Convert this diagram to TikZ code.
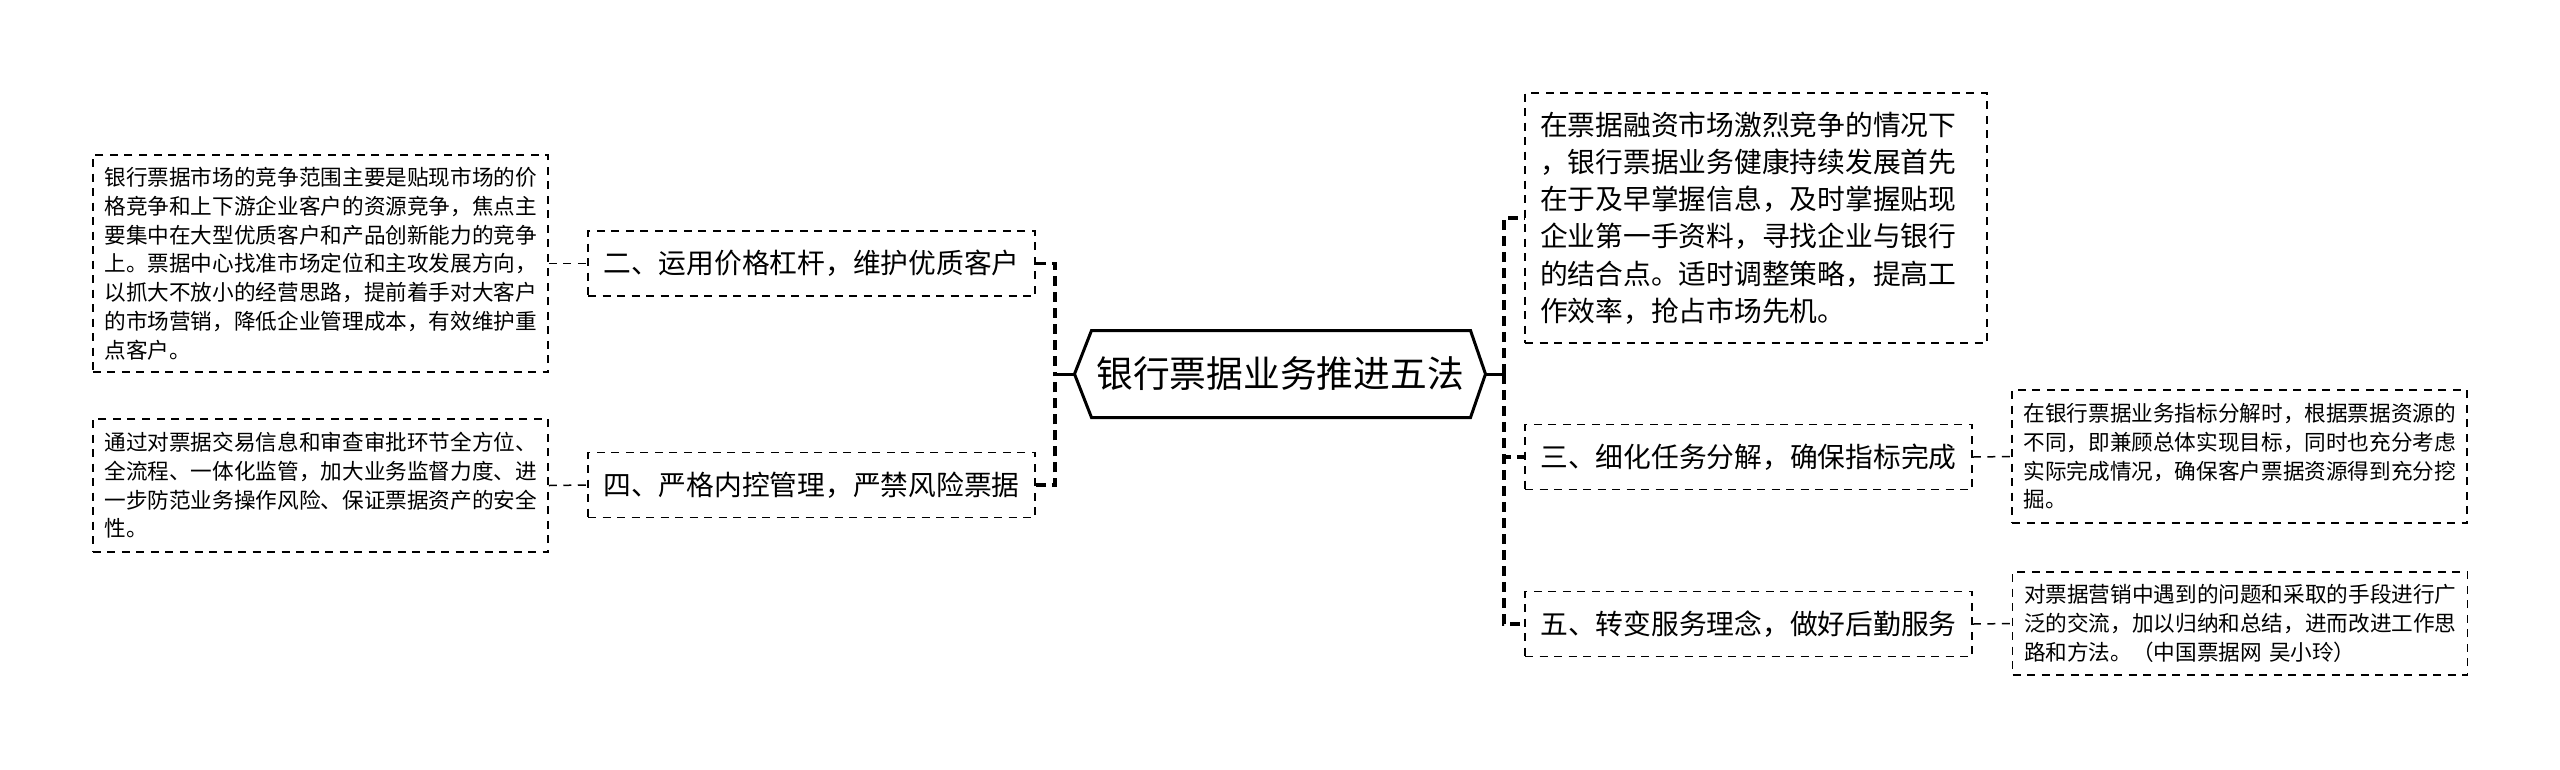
\documentclass[tikz,border=0pt]{standalone}
\usepackage{fontspec}
\setmainfont{Noto Sans CJK SC}
\begin{document}
\begin{tikzpicture}[x=0.4pt, y=-0.4pt]

        \useasboundingbox (0,0) rectangle (2560,769);

        % Stili per riquadri e linee
        \tikzset{
            radice/.style={minimum width=164pt, minimum height=34.4pt, inner sep=0pt,
                font=\fontsize{14.7}{17}\selectfont},
            ramo/.style={draw, line width=0.6pt, dash pattern=on 3.2pt off 2.6pt,
                minimum width=178.8pt, minimum height=26pt, inner sep=0pt,
                font=\fontsize{11.1}{14.9}\selectfont},
            testo/.style={draw, line width=0.6pt, dash pattern=on 3.2pt off 2.6pt,
                text width=172.8pt, inner xsep=6pt, inner ysep=0pt, minimum height=100pt,
                align=left, font=\fontsize{11.1}{14.9}\selectfont},
            dettaglio/.style={draw, line width=0.6pt, dash pattern=on 3.2pt off 2.6pt,
                text width=172.8pt, inner xsep=4.6pt, inner ysep=0pt, align=left,
                font=\fontsize{8.65}{11.5}\selectfont},
            tronco/.style={line width=1.3pt, dash pattern=on 4pt off 2.4pt},
            filo/.style={line width=0.6pt, dash pattern=on 3.2pt off 2.6pt},
            gambo/.style={line width=1.2pt}
        }

        % Nodo centrale (esagono)
        \node[radice] (radice) at (1280,374) {银行票据业务推进五法};
        \draw[line width=1.2pt] (radice.west) -- ([xshift=6.8pt]radice.north west)
            -- ([xshift=-6pt]radice.north east) -- (radice.east)
            -- ([xshift=-6pt]radice.south east) -- ([xshift=6.8pt]radice.south west) -- cycle;

        % Rami a sinistra
        \node[ramo] (due) at (811.5,263.5) {二、运用价格杠杆，维护优质客户};
        \node[ramo] (quattro) at (811.5,485) {四、严格内控管理，严禁风险票据};
        \node[dettaglio, minimum height=86.8pt] (det2) at (320.5,263.5) {银行票据市场的竞争范围主要是贴现市场的价\\
            格竞争和上下游企业客户的资源竞争，焦点主\\
            要集中在大型优质客户和产品创新能力的竞争\\
            上。票据中心找准市场定位和主攻发展方向，\\
            以抓大不放小的经营思路，提前着手对大客户\\
            的市场营销，降低企业管理成本，有效维护重\\
            点客户。};
        \node[dettaglio, minimum height=53.2pt] (det4) at (320.5,485.5) {通过对票据交易信息和审查审批环节全方位、\\
            全流程、一体化监管，加大业务监督力度、进\\
            一步防范业务操作风险、保证票据资产的安全\\
            性。};

        % Rami a destra
        \node[testo] (uno) at (1756,218) {在票据融资市场激烈竞争的情况下\\
            ，银行票据业务健康持续发展首先\\
            在于及早掌握信息，及时掌握贴现\\
            企业第一手资料，寻找企业与银行\\
            的结合点。适时调整策略，提高工\\
            作效率，抢占市场先机。};
        \node[ramo] (tre) at (1748.5,457) {三、细化任务分解，确保指标完成};
        \node[ramo] (cinque) at (1748.5,624) {五、转变服务理念，做好后勤服务};
        \node[dettaglio, minimum height=53.2pt] (det3) at (2239.5,456.5) {在银行票据业务指标分解时，根据票据资源的\\
            不同，即兼顾总体实现目标，同时也充分考虑\\
            实际完成情况，确保客户票据资源得到充分挖\\
            掘。};
        \node[dettaglio, minimum height=41.2pt] (det5) at (2240,623.5) {对票据营销中遇到的问题和采取的手段进行广\\
            泛的交流，加以归纳和总结，进而改进工作思\\
            路和方法。（中国票据网 吴小玲）};

        % Collegamenti
        \coordinate (nodosx) at (1055,374);
        \coordinate (nododx) at (1504,374);
        \draw[gambo] (radice.west) -- (nodosx);
        \draw[gambo] (radice.east) -- (nododx);
        \draw[tronco] (due.east) -| (nodosx);
        \draw[tronco] (quattro.east) -| (nodosx);
        \draw[tronco] (nododx) |- (uno.west);
        \draw[tronco] (nododx) |- (tre.west);
        \draw[tronco] (nododx) |- (cinque.west);
        \draw[filo] (det2.east) -- (due.west);
        \draw[filo] (det4.east) -- (quattro.west);
        \draw[filo] (tre.east) -- (det3.west);
        \draw[filo] (cinque.east) -- (det5.west);

    \end{tikzpicture}
\end{document}
